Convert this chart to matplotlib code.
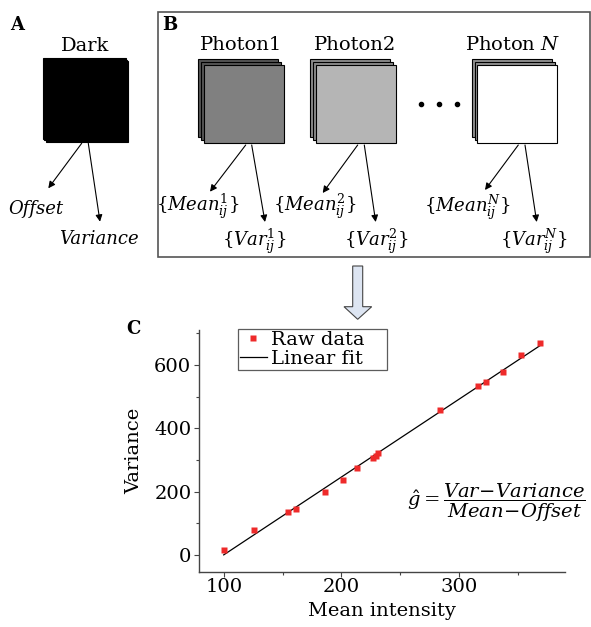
import numpy as np
import matplotlib
matplotlib.use("Agg")
import matplotlib.pyplot as plt
from matplotlib.patches import Rectangle, Polygon

plt.rcParams['font.family'] = ['DejaVu Serif']
plt.rcParams['mathtext.fontset'] = 'dejavuserif'

# ---- data (panel C) ----
mean_intensity = [100, 125.5, 155, 161, 186, 201, 213, 227, 229, 231,
                  284, 316, 323, 337, 352.5, 369]
variance = [14, 79, 134, 144, 198, 236, 275, 305, 313, 322,
            456, 534, 546, 577, 632, 668]
x_ticks = [100, 200, 300]
y_ticks = [0, 200, 400, 600]

# ---- diagram labels ----
panel_letters = ['A', 'B', 'C']
stack_titles = ['Dark', 'Photon1', 'Photon2', r'Photon $N$']
mean_labels = [r'$\{Mean^{1}_{ij}\}$', r'$\{Mean^{2}_{ij}\}$', r'$\{Mean^{N}_{ij}\}$']
var_labels = [r'$\{Var^{1}_{ij}\}$', r'$\{Var^{2}_{ij}\}$', r'$\{Var^{N}_{ij}\}$']

W, H = 591, 627
fig = plt.figure(figsize=(W / 100, H / 100), dpi=100)

ov = fig.add_axes([0, 0, 1, 1])
ov.set_xlim(0, W)
ov.set_ylim(H, 0)
ov.axis('off')

# panel letters
ov.text(17.5, 25, panel_letters[0], fontsize=13, fontweight='bold', ha='center', va='center')
ov.text(170, 25, panel_letters[1], fontsize=13, fontweight='bold', ha='center', va='center')
ov.text(133, 329, panel_letters[2], fontsize=13, fontweight='bold', ha='center', va='center')

# panel B frame
ov.add_patch(Rectangle((158.3, 12.3), 431.5, 244.4, fill=False, ec='#555555', lw=1.2))


def stack(x0, y0, w, h, back, front, d=2.8):
    for i, fc in enumerate([back, back, front]):
        ov.add_patch(Rectangle((x0 - (2 - i) * d, y0 - (2 - i) * d), w, h,
                               fc=fc, ec='black', lw=0.8))


# Dark stack
stack(45.5, 61, 82.8, 80.7, 'black', 'black', d=1.4)
stack(204, 65, 80, 78, '#555555', '#808080')
stack(316, 65, 80, 78, '#8a8a8a', '#b5b5b5')
stack(477.3, 65, 80, 78, '#8f8f8f', 'white')

titles_xy = [(85, 46), (241, 45), (355, 45), (513, 45)]
for (tx, ty), t in zip(titles_xy, stack_titles):
    ov.text(tx, ty, t, fontsize=14, ha='center', va='center')

# ellipsis dots
for dx in [421, 439, 457]:
    ov.plot(dx, 104, 'o', color='black', ms=3)


def arrow(p0, p1):
    ov.annotate('', xy=p1, xytext=p0,
                arrowprops=dict(arrowstyle='-|>', lw=0.8, color='black',
                                mutation_scale=10, shrinkA=0, shrinkB=0))


arrow((81.7, 143.3), (48.3, 188.3))
arrow((88.3, 143.3), (100, 221.7))
arrow((245.7, 145), (210, 191.7))
arrow((251.7, 145), (265, 222))
arrow((357.7, 145), (322.7, 193))
arrow((364.3, 145), (375.7, 222))
arrow((518.3, 145), (485, 190))
arrow((525, 145), (536.7, 222))

ov.text(35.5, 209, 'Offset', fontsize=13, style='italic', ha='center', va='center')
ov.text(99, 239, 'Variance', fontsize=13, style='italic', ha='center', va='center')

mean_xy = [(197.5, 206), (315, 206), (467.5, 207)]
var_xy = [(254, 241), (376, 241), (534, 241)]
for (mx, my), t in zip(mean_xy, mean_labels):
    ov.text(mx, my, t, fontsize=13, ha='center', va='center')
for (vx, vy), t in zip(var_xy, var_labels):
    ov.text(vx, vy, t, fontsize=13, ha='center', va='center')

# block arrow
ov.add_patch(Polygon([(352.7, 266), (362.7, 266), (362.7, 306.7), (371.7, 306.7),
                      (357.7, 319.3), (344, 306.7), (352.7, 306.7)],
                     closed=True, fc='#dde5f2', ec='#444444', lw=0.8))

# ---- panel C ----
ax = fig.add_axes([199 / W, 1 - 572 / H, (565 - 199) / W, (572 - 330) / H])
ax.set_xlim(79, 390)
ax.set_ylim(-54, 710)
ax.spines['top'].set_visible(False)
ax.spines['right'].set_visible(False)
for s in ['left', 'bottom']:
    ax.spines[s].set_color('#444444')
    ax.spines[s].set_linewidth(1.0)

xm = np.array(mean_intensity)
ym = np.array(variance)
coef = np.polyfit(xm, ym, 1)
xf = np.array([xm.min(), xm.max()])
ax.plot(xf, np.polyval(coef, xf), color='black', lw=0.9, label='Linear fit', zorder=2)
ax.plot(xm, ym, 's', color='#ee2a2a', ms=5, mec='none', label='Raw data', zorder=3)

ax.set_xticks(x_ticks)
ax.set_yticks(y_ticks)
ax.set_xticks([150, 250, 350], minor=True)
ax.set_yticks([100, 300, 500, 700], minor=True)
ax.tick_params(axis='both', which='major', direction='out', length=3.5, width=0.8,
               labelsize=14, color='#444444')
ax.tick_params(axis='both', which='minor', direction='out', length=2.5, width=0.8,
               color='#444444')
ax.tick_params(axis='x', which='major', pad=1)
ax.tick_params(axis='y', which='major', pad=2)
ax.set_xlabel('Mean intensity', fontsize=14, labelpad=4)
ax.set_ylabel('Variance', fontsize=14, labelpad=8)

handles, labels = ax.get_legend_handles_labels()
leg = ax.legend(handles[::-1], labels[::-1], loc='upper left', mode='expand',
                bbox_to_anchor=(237.7 / W, 1 - 373.3 / H, 149.6 / W, 44 / H),
                bbox_transform=fig.transFigure,
                borderaxespad=0, fontsize=14, frameon=True, fancybox=False,
                handlelength=1.4, handletextpad=0.2, labelspacing=0.05,
                borderpad=0.1, markerscale=1.0)
leg.get_frame().set_edgecolor('#333333')
leg.get_frame().set_linewidth(0.9)

# formula (figure-level so it draws above the axes)
fig.text(586 / W, 1 - 503 / H, r'$\hat{g}=\dfrac{Var\!-\!Variance}{Mean\!-\!Offset}$',
         fontsize=14, ha='right', va='center')

fig.savefig('out.png', dpi=100)
